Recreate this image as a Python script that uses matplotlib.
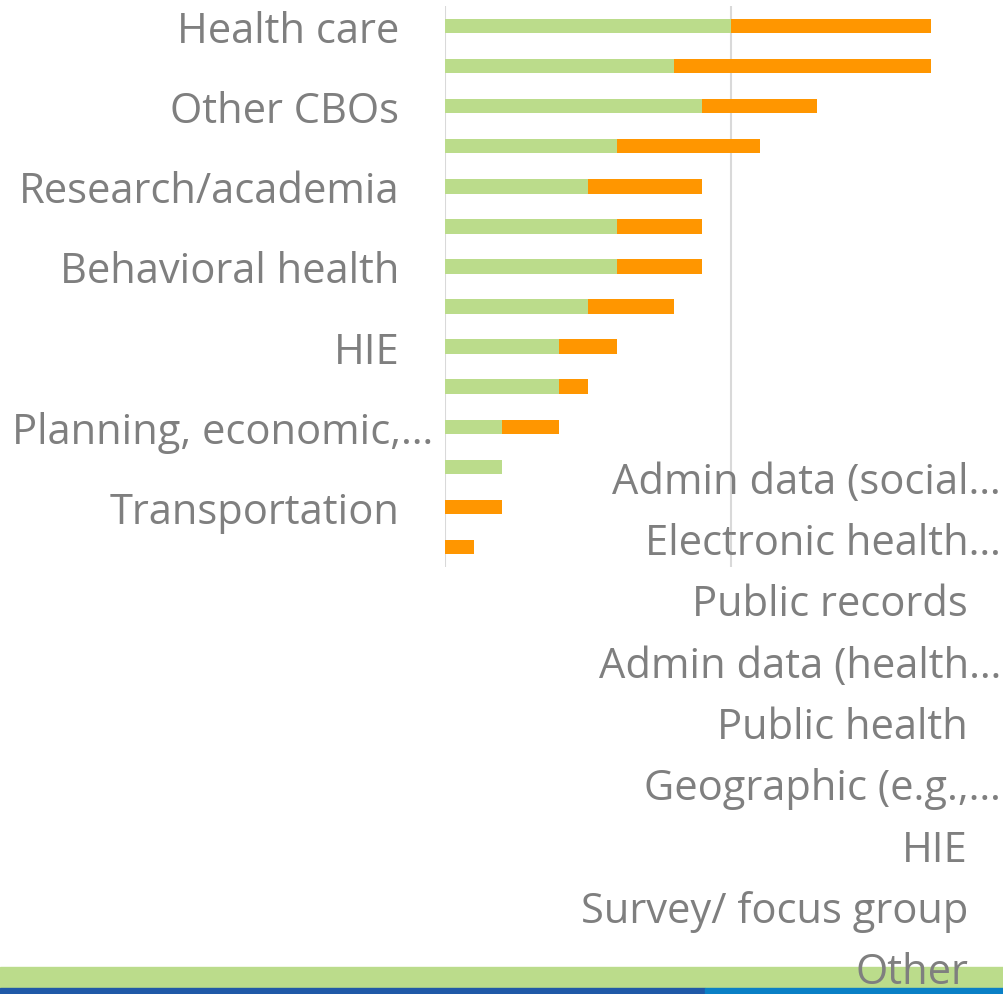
import matplotlib
matplotlib.use("Agg")
from matplotlib import pyplot as plt
from matplotlib.patches import Rectangle
from matplotlib.transforms import blended_transform_factory

# partner types (every other label shown on the axis, as in the slide)
partners = ["Health care", "", "Other CBOs", "", "Research/academia", "",
            "Behavioral health", "", "HIE", "", "Planning, economic,…", "",
            "Transportation", ""]
green_vals = [10, 8, 9, 6, 5, 6, 6, 5, 4, 4, 2, 2, 0, 0]
orange_vals = [7, 9, 4, 5, 4, 3, 3, 3, 2, 1, 2, 0, 2, 1]

# data source labels of the second chart (overlapping in the slide)
sources = ["Admin data (social…", "Electronic health…", "Public records",
           "Admin data (health…", "Public health", "Geographic (e.g.,…",
           "HIE", "Survey/ focus group", "Other"]

W, H = 1004, 995
fig = plt.figure(figsize=(W / 100, H / 100), dpi=100)
fig.patch.set_facecolor("white")

grey = "#7f7f7f"
green = "#bbdc8b"
orange = "#ff9600"
font = ["Open Sans", "DejaVu Sans"]

# bottom slide bands
fig.add_artist(Rectangle((0, 1 - 989 / H), 1, 21 / H, transform=fig.transFigure,
                         color=green, zorder=0))
fig.add_artist(Rectangle((0, 0), 705 / W, 6 / H, transform=fig.transFigure,
                         color="#2059a8", zorder=0))
fig.add_artist(Rectangle((705 / W, 0), 1 - 705 / W, 6 / H, transform=fig.transFigure,
                         color="#0a80c6", zorder=0))

# first chart
x0, x1 = 445, 1004
ytop, ybot = 7, 568
ax = fig.add_axes([x0 / W, 1 - ybot / H, (x1 - x0) / W, (ybot - ytop) / H])
ax.set_facecolor("none")
pos = list(range(len(partners)))
ax.barh(pos, green_vals, height=0.36, color=green, zorder=3)
ax.barh(pos, orange_vals, left=green_vals, height=0.36, color=orange, zorder=3)
ax.set_xticks([0, 10])
ax.set_ylim(len(partners) - 0.5, -0.5)
ax.set_xlim(0, (x1 - x0) / 28.6)
ax.xaxis.grid(True, color="#d9d9d9", linewidth=1.5)
ax.tick_params(axis="x", length=0, labelbottom=False)
ax.set_yticks(pos[::2])
# truncated labels run a bit further right, as in the slide
shown = [p if not p.endswith("…") else "" for p in partners[::2]]
ax.set_yticklabels(shown, color=grey, fontsize=30, family=font)
ax.tick_params(axis="y", length=0, pad=33)
tr1 = blended_transform_factory(fig.transFigure, ax.transData)
for i, lab in enumerate(partners):
    if lab.endswith("…"):
        ax.text(433 / W, i, lab, transform=tr1, ha="right", va="center_baseline",
                color=grey, fontsize=30, family=font)
for s in ax.spines.values():
    s.set_visible(False)

# second chart labels (only its category labels show)
ax2 = fig.add_axes([0, 1 - 1004 / H, 1, 552 / H])
ax2.set_facecolor("none")
ax2.set_ylim(len(sources) - 0.5, -0.5)
ax2.set_xlim(0, 1)
ax2.axis("off")
tr = blended_transform_factory(fig.transFigure, ax2.transData)
for i, lab in enumerate(sources):
    xr = 1001 / W if lab.endswith("…") else 968 / W
    ax2.text(xr, i, lab, transform=tr, ha="right", va="center", color=grey,
             fontsize=30, family=font, zorder=5)

fig.savefig("out.png", dpi=100)
